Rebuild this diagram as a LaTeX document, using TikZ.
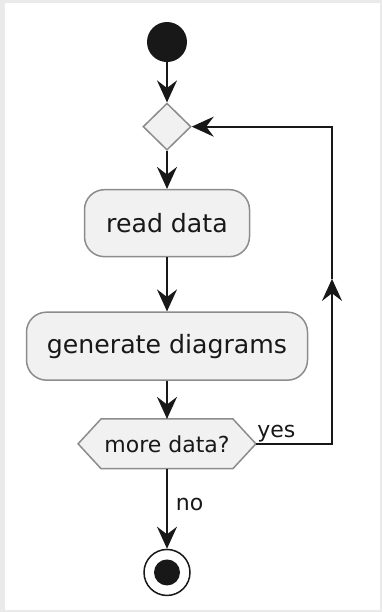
\documentclass[tikz,border=0pt]{standalone}
\usepackage{fontspec}
\setmainfont{DejaVu Sans}
\usetikzlibrary{shapes.geometric,arrows.meta,positioning,backgrounds,calc}
\definecolor{umlfill}{HTML}{F1F1F1}
\definecolor{umlline}{HTML}{181818}
\definecolor{umlborder}{HTML}{8C8C8C}
\definecolor{pageframe}{HTML}{EAEAEA}

\begin{document}
\begin{tikzpicture}[
    x=0.5pt, y=-0.5pt,
    font=\fontsize{12.6}{15}\selectfont,
    node distance=0mm,
    action/.style={draw=umlborder, fill=umlfill, text=umlline, rounded corners=10pt, minimum height=33.5pt, align=center, line width=0.75pt, inner sep=0pt},
    merge/.style={diamond, draw=umlborder, fill=umlfill, minimum width=24pt, minimum height=23.5pt, inner sep=0pt, line width=0.75pt},
    flow/.style={-{Stealth[length=11pt, width=10pt, inset=3.8pt]}, draw=umlline, line width=1pt},
    lbl/.style={font=\fontsize{11}{13}\selectfont, inner sep=0pt, text=umlline}
]
\useasboundingbox (0,0) rectangle (382,612);
\begin{scope}[on background layer]
  \fill[pageframe] (0,0) rectangle (382,612);
  \fill[white] (5,3) rectangle (380,610);
\end{scope}

\node[circle, fill=umlline, minimum size=20pt, inner sep=0pt] (start) at (167,42) {};
\node[merge, below=20pt of start] (loop) {};
\node[action, below=19pt of loop, minimum width=82.5pt] (read) {read data};
\node[action, below=27pt of read, minimum width=140.5pt, minimum height=34pt] (gen) {generate diagrams};
\node[below=19pt of gen, minimum width=65.5pt, minimum height=24.5pt, inner sep=0pt, text=umlline,
      font=\fontsize{11}{13}\selectfont] (test) {more data?};
\begin{scope}[on background layer]
  \draw[draw=umlborder, fill=umlfill, line width=0.75pt] (test.north west) -- (test.north east) -- ([xshift=11.5pt]test.east)
    -- (test.south east) -- (test.south west) -- ([xshift=-11.5pt]test.west) -- cycle;
\end{scope}
\node[circle, draw=umlline, fill=white, line width=0.75pt, minimum size=23pt, inner sep=0pt, below=40pt of test] (stop) {};
\node[circle, fill=umlline, minimum size=13pt, inner sep=0pt] (stopdot) at (stop) {};

\foreach \a/\b in {start/loop, loop/read, read/gen, gen/test}
  \draw[flow] (\a.south) -- (\b.north);

% no branch
\draw[flow] (test.south) -- node[lbl, pos=0.45, right=4pt] (no) {no} (stop.north);

% yes branch back to the merge point
\coordinate (tip) at ([xshift=11.5pt]test.east);
\coordinate (back) at ([xshift=82.5pt]test.center);
\coordinate (midup) at ($(back)!0.52!(back |- loop.east)$);
\node[lbl, anchor=base west] (yes) at ([xshift=0.5pt, yshift=3pt]tip) {yes};
\draw[flow] (tip) -- (back) -- (midup);
\draw[flow] (midup) -- (back |- loop.east) -- (loop.east);
\end{tikzpicture}
\end{document}
